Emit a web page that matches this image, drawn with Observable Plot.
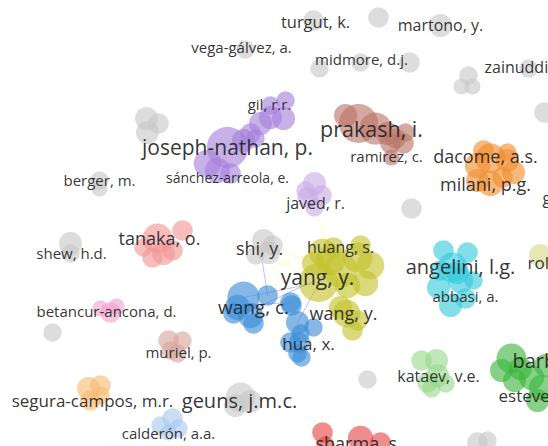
<!DOCTYPE html>
<html><head><meta charset="utf-8">
<script src="https://cdn.jsdelivr.net/npm/d3@7"></script>
<script src="https://cdn.jsdelivr.net/npm/@observablehq/plot@0.6"></script>
<style>body{margin:0;background:#fff} svg circle{filter:blur(0.4px)}</style>
</head><body><div id="chart"></div>
<script>
// clusters
const clusters = ["grey","purple","lilac","brown","orange","yellow","blue","cyan","pink","rose","tan","peach","sky","mint","green","red","olive"];
const clusterColors = ["#c8c8c8","#a77fdc","#c9abe6","#b97468","#f28c2c","#c3c22a","#3a8dd6","#35cadb","#f29595","#f1a2cb","#d6a59b","#f7bb72","#a9c8ef","#98d98a","#3cb43c","#e64545","#d8d887"];

// nodes: [cluster, x, y, r] in map coordinates
const nodesGrey = [
  ["grey",378,17,9],["grey",313,20,9],["grey",440,25,10],["grey",245,49,8],
  ["grey",319,68,8],["grey",360,62,8],["grey",409,62,9],["grey",528,68,8],
  ["grey",468,75,8],["grey",461,86,7],["grey",472,86,7],["grey",544,112,9],
  ["grey",146,118,10],["grey",158,123,9],["grey",147,132,10],
  ["grey",99,180,8],["grey",99,188,7],["grey",411,208,9],
  ["grey",70,243,10],["grey",70,253,8],
  ["grey",263,240,10],["grey",268,252,10],["grey",255,255,8],["grey",272,245,9],
  ["grey",52,332,8],["grey",367,379,8],
  ["grey",240,397,13],["grey",235,405,10],["grey",250,401,10],
  ["grey",477,442,9],["grey",487,440,8]
];
const nodesPurple = [
  ["purple",227,147,18],["purple",207,163,12],["purple",217,170,11],["purple",230,173,9],
  ["purple",243,140,10],["purple",250,133,9],["purple",260,123,10],["purple",270,117,10],
  ["purple",283,118,10],["purple",270,105,8],["purple",285,100,8],["purple",255,138,8],
  ["lilac",314,183,10],["lilac",307,197,9],["lilac",321,195,9],["lilac",314,207,8],["lilac",305,190,8]
];
const nodesBrown = [
  ["brown",358,123,17],["brown",375,128,14],["brown",345,115,10],["brown",387,133,10],
  ["brown",395,138,9],["brown",405,132,8],["brown",403,143,9],["brown",390,143,9],["brown",391,157,7]
];
const nodesOrange = [
  ["orange",490,158,13],["orange",477,165,11],["orange",507,160,10],["orange",513,172,10],
  ["orange",477,180,10],["orange",490,183,11],["orange",502,177,9],["orange",483,150,9],["orange",507,152,8]
];
const nodesYellow = [
  ["yellow",318,282,17],["yellow",322,252,12],["yellow",340,270,15],["yellow",357,257,13],
  ["yellow",370,265,12],["yellow",365,283,11],["yellow",347,285,11],["yellow",330,260,13],
  ["yellow",313,263,10],["yellow",333,247,9],["yellow",360,245,9],
  ["yellow",340,307,10],["yellow",346,313,12],["yellow",357,320,9],["yellow",352,330,9],
  ["olive",540,255,10]
];
const nodesBlue = [
  ["blue",243,297,14],["blue",237,307,11],["blue",250,315,11],["blue",233,313,9],
  ["blue",253,323,9],["blue",267,295,9],["blue",290,302,9],["blue",291,305,9],
  ["blue",297,322,10],["blue",313,327,8],["blue",300,333,8],["blue",290,342,9],
  ["blue",299,342,9],["blue",297,353,8],["blue",301,357,8]
];
const nodesOther = [
  ["cyan",443,250,9],["cyan",467,252,9],["cyan",452,267,13],["cyan",438,287,10],
  ["cyan",460,280,11],["cyan",473,280,8],["cyan",450,305,10],["cyan",465,298,9],
  ["cyan",457,272,10],["cyan",440,270,9],
  ["pink",157,238,13],["pink",182,230,9],["pink",163,253,10],["pink",152,257,9],
  ["pink",172,250,9],["pink",143,247,8],
  ["rose",110,312,9],["rose",100,308,7],["rose",116,306,7],
  ["tan",168,340,9],["tan",182,340,8],["tan",177,353,8],["tan",170,350,8],
  ["peach",88,388,10],["peach",100,385,9],["peach",90,400,9],["peach",100,395,8],
  ["sky",172,418,9],["sky",160,425,8],["sky",178,428,8],["sky",168,432,7],
  ["mint",421,360,9],["mint",436,360,10],["mint",437,375,10],["mint",427,382,9],
  ["mint",431,388,8],["mint",445,383,8],
  ["green",511,358,13],["green",501,370,10],["green",514,380,10],["green",531,377,11],
  ["green",541,387,11],["green",537,400,10],["green",545,365,10],["green",520,368,10],
  ["red",322,432,9],["red",360,438,11],["red",380,442,9],["red",325,445,8]
];

// links: [cluster, x1, y1, x2, y2, bend]
const links = [
  ["yellow",315,205,330,262,-12],["yellow",265,250,318,282,35],["yellow",262,270,330,250,60],
  ["blue",243,297,318,282,-15],["blue",250,310,340,268,25],["blue",297,322,330,262,-10],
  ["blue",262,262,267,295,20],["yellow",330,270,345,315,8],["yellow",340,268,350,322,6],
  ["yellow",357,262,352,328,-6],["yellow",365,280,346,318,-10],["yellow",322,282,343,312,10],
  ["blue",237,305,290,302,-20],["yellow",268,252,343,262,-25]
];

// labels: [text, x, y, size] (x,y = label centre)
const labels = [
  ["turgut, k.",315,22,16.5],["martono, y.",440,25,16],["vega-gálvez, a.",241,48,15],
  ["midmore, d.j.",361,60,15],["gil, r.r.",269,105,15],["joseph-nathan, p.",227,148,21],
  ["prakash, i.",371,130,21.5],["ramirez, c.",386,157,15],["dacome, a.s.",485,157,18],
  ["sánchez-arreola, e.",227,178,14],["berger, m.",99,181,15],["milani, p.g.",485,185,18],
  ["javed, r.",315,203,16],["tanaka, o.",159,239,18],["shi, y.",259,249,18],
  ["huang, s.",340,247,16],["shew, h.d.",71,254,15],["angelini, l.g.",460,267,20],
  ["yang, y.",317,278,21],["abbasi, a.",465,297,15],["wang, c.",253,307,19],
  ["betancur-ancona, d.",106,312,15],["wang, y.",343,314,18],["hua, x.",308,344,17],
  ["muriel, p.",178,353,15],["kataev, v.e.",438,376,16],["segura-campos, m.r.",92,401,17],
  ["geuns, j.m.c.",239,401,20],["calderón, a.a.",168,434,15]
];
// labels cut by the right / bottom edge: [text, xStart, y, size]
const edgeLabels = [
  ["zainuddin, a.",484,67,16],["gorni, e.",542,198,16],["rolim, l.a.",527,263,17],
  ["barbosa, m.",512,361,20],["esteves, r.",498,396,17],["sharma, s.",315,444,18]
];

const nodes = [...nodesGrey, ...nodesPurple, ...nodesBrown, ...nodesOrange, ...nodesYellow, ...nodesBlue, ...nodesOther];

const chart = Plot.plot({
  width: 548, height: 446,
  margin: 0,
  x: {domain: [0, 548], axis: null},
  y: {domain: [446, 0], axis: null},
  r: {type: "identity"},
  color: {domain: clusters, range: clusterColors},
  style: {fontFamily: "'Open Sans', sans-serif", background: "#fff"},
  marks: [
    Plot.arrow(links, {x1: d => d[1], y1: d => d[2], x2: d => d[3], y2: d => d[4], bend: d => d[5],
      stroke: d => d[0], strokeOpacity: 0.25, strokeWidth: 1, headLength: 0}),
    Plot.dot(nodes, {x: d => d[1], y: d => d[2], r: d => d[3] * 1.15, fill: d => d[0], fillOpacity: 0.62, stroke: "none"}),
    Plot.text(labels, {x: d => d[1], y: d => d[2], text: d => d[0], fontSize: d => d[3],
      fill: "#222", fillOpacity: 0.92, textAnchor: "middle", lineAnchor: "middle"}),
    Plot.text(edgeLabels, {x: d => d[1], y: d => d[2], text: d => d[0], fontSize: d => d[3],
      fill: "#222", fillOpacity: 0.92, textAnchor: "start", lineAnchor: "middle"})
  ]
});
document.getElementById("chart").appendChild(chart);
</script>
</body></html>
